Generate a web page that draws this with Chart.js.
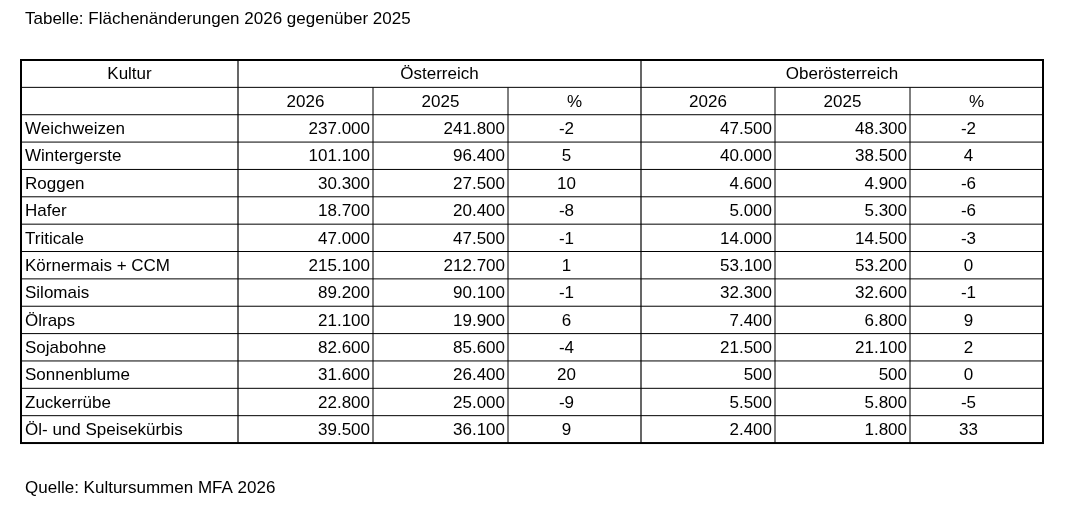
<!DOCTYPE html>
<html><head><meta charset="utf-8">
<script src="https://cdn.jsdelivr.net/npm/chart.js@4"></script>
<style>html,body{margin:0;background:#fff}#c{display:block}</style>
</head><body>
<div style="width:1070px;height:506px"><canvas id="c"></canvas></div>
<script>
const title = 'Tabelle: Flächenänderungen 2026 gegenüber 2025';
const source = 'Quelle: Kultursummen MFA 2026';
const groups = ['Österreich', 'Oberösterreich'];
const subHeaders = ['2026', '2025', '%', '2026', '2025', '%'];
const crops = ['Weichweizen', 'Wintergerste', 'Roggen', 'Hafer', 'Triticale', 'Körnermais + CCM',
    'Silomais', 'Ölraps', 'Sojabohne', 'Sonnenblume', 'Zuckerrübe', 'Öl- und Speisekürbis'];
const at2026 = ['237.000', '101.100', '30.300', '18.700', '47.000', '215.100', '89.200', '21.100', '82.600', '31.600', '22.800', '39.500'];
const at2025 = ['241.800', '96.400', '27.500', '20.400', '47.500', '212.700', '90.100', '19.900', '85.600', '26.400', '25.000', '36.100'];
const atPct = ['-2', '5', '10', '-8', '-1', '1', '-1', '6', '-4', '20', '-9', '9'];
const ooe2026 = ['47.500', '40.000', '4.600', '5.000', '14.000', '53.100', '32.300', '7.400', '21.500', '500', '5.500', '2.400'];
const ooe2025 = ['48.300', '38.500', '4.900', '5.300', '14.500', '53.200', '32.600', '6.800', '21.100', '500', '5.800', '1.800'];
const ooePct = ['-2', '4', '-6', '-6', '-3', '0', '-1', '9', '2', '0', '-5', '33'];

// column edges and row edges in page units
const colX = [21, 238, 373, 508, 641, 775, 910, 1043];
const tableTop = 60, rowH = 27.36, nRows = crops.length + 2;
const font = '17px "Liberation Sans", Arial, sans-serif';

const tablePlugin = {
    id: 'table',
    afterDraw(chart) {
        const ctx = chart.ctx, sx = chart.scales.x, sy = chart.scales.y;
        const X = v => sx.getPixelForValue(v), Y = v => sy.getPixelForValue(v);
        const rowY = i => tableTop + i * rowH;
        const line = (x1, y1, x2, y2, w) => {
            ctx.lineWidth = w; ctx.beginPath();
            ctx.moveTo(X(x1), Y(y1)); ctx.lineTo(X(x2), Y(y2)); ctx.stroke();
        };
        ctx.save();
        ctx.strokeStyle = '#000'; ctx.fillStyle = '#000'; ctx.font = font;
        ctx.textBaseline = 'middle';
        ctx.textAlign = 'left';
        ctx.fillText(title, X(25), Y(19));
        ctx.fillText(source, X(25), Y(488));

        const bottom = rowY(nRows);
        for (let i = 1; i < nRows; i++) line(colX[0], rowY(i), colX[7], rowY(i), 1);
        line(colX[1], tableTop, colX[1], bottom, 1.2);
        line(colX[4], tableTop, colX[4], bottom, 1.2);
        [2, 3, 5, 6].forEach(c => line(colX[c], rowY(1), colX[c], bottom, 1));
        ctx.lineWidth = 2;
        ctx.strokeRect(X(colX[0]), Y(tableTop), X(colX[7]) - X(colX[0]), Y(bottom) - Y(tableTop));

        const mid = i => Y(rowY(i) + rowH / 2 + 1);
        ctx.textAlign = 'center';
        ctx.fillText('Kultur', X((colX[0] + colX[1]) / 2), mid(0));
        ctx.fillText(groups[0], X((colX[1] + colX[4]) / 2), mid(0));
        ctx.fillText(groups[1], X((colX[4] + colX[7]) / 2), mid(0));
        subHeaders.forEach((h, c) => ctx.fillText(h, X((colX[c + 1] + colX[c + 2]) / 2), mid(1)));

        const cols = [at2026, at2025, atPct, ooe2026, ooe2025, ooePct];
        crops.forEach((name, r) => {
            ctx.textAlign = 'left';
            ctx.fillText(name, X(colX[0] + 4), mid(r + 2));
            cols.forEach((arr, c) => {
                if (c % 3 === 2) {
                    ctx.textAlign = 'center';
                    ctx.fillText(arr[r], X((colX[c + 1] + colX[c + 2]) / 2 - 8), mid(r + 2));
                } else {
                    ctx.textAlign = 'right';
                    ctx.fillText(arr[r], X(colX[c + 2] - 3), mid(r + 2));
                }
            });
        });
        ctx.restore();
    }
};

new Chart(document.getElementById('c'), {
    type: 'scatter',
    data: { datasets: [{ data: [] }] },
    options: {
        responsive: true, maintainAspectRatio: false, animation: false,
        layout: { padding: 0 },
        plugins: { legend: { display: false }, tooltip: { enabled: false } },
        scales: {
            x: { type: 'linear', min: 0, max: 1070, display: false },
            y: { type: 'linear', min: 0, max: 506, reverse: true, display: false }
        }
    },
    plugins: [tablePlugin]
});
</script>
</body></html>
